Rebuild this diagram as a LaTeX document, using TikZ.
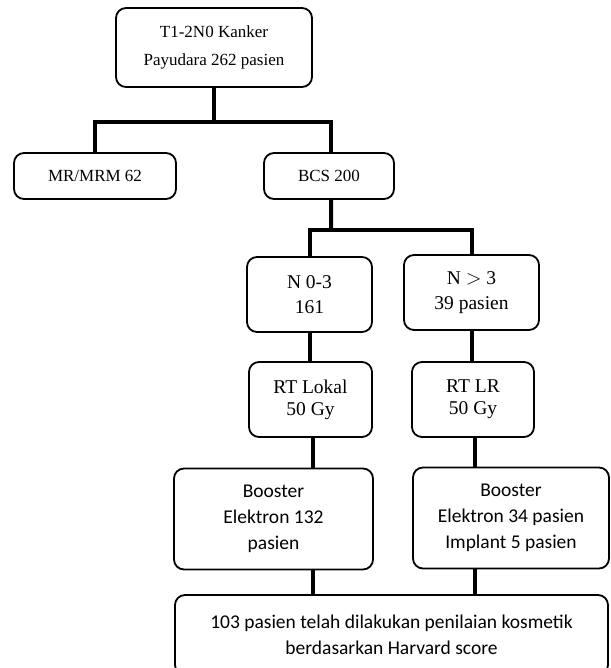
\documentclass[tikz,border=0pt]{standalone}
\usepackage{fontspec}
\setmainfont{Liberation Serif}
\newfontfamily\calib{Carlito}
\begin{document}
\begin{tikzpicture}[x=1bp,y=-1bp,
  box/.style={draw=black, line width=1.8bp, rounded corners=10bp, align=center, inner sep=0pt, fill=white},
  serifbox/.style={box, font=\fontsize{17bp}{25bp}\selectfont},
  nbox/.style={box, font=\fontsize{19.5bp}{25bp}\selectfont},
  rtbox/.style={box, font=\fontsize{19.5bp}{22bp}\selectfont},
  sansbox/.style={box, font=\calib\fontsize{19.5bp}{26bp}\selectfont},
  conn/.style={draw=black, line width=4bp}]
\useasboundingbox (0,0) rectangle (611,668);
\clip (0,0) rectangle (611,668);
\node[serifbox, minimum width=196bp, minimum height=79bp, font=\fontsize{17bp}{28bp}\selectfont] (top) at (214,47.5) {T1-2N0 Kanker\\Payudara 262 pasien};
\node[serifbox, minimum width=162bp, minimum height=46bp] (mr) at (95,176) {MR/MRM 62};
\node[serifbox, minimum width=130bp, minimum height=46bp] (bcs) at (329,176) {BCS 200};
\node[nbox, minimum width=125bp, minimum height=75bp] (n03) at (309.5,294.5) {N 0-3\\161};
\node[nbox, minimum width=135bp, minimum height=75bp] (ng3) at (471.5,292.5) {N $>$ 3\\39 pasien};
\node[rtbox, minimum width=123bp, minimum height=75bp] (rtl) at (310.5,399.5) {RT Lokal\\50 Gy};
\node[rtbox, minimum width=122bp, minimum height=75bp] (rtlr) at (473,399.5) {RT LR\\50 Gy};
\node[sansbox, minimum width=199bp, minimum height=101bp] (b1) at (273.5,519) {Booster\\Elektron 132\\pasien};
\node[sansbox, minimum width=196bp, minimum height=101bp] (b2) at (511,518) {Booster\\Elektron 34 pasien\\Implant 5 pasien};
\node[sansbox, minimum width=433bp, minimum height=80bp] (bot) at (391.5,635) {103 pasien telah dilakukan penilaian kosmetik\\berdasarkan Harvard score};
\coordinate (j1) at (214,122);
\coordinate (j2) at (331,230);
\coordinate (bcsS) at ([xshift=2bp]bcs.south);
\coordinate (bcsN) at ([xshift=2bp]bcs.north);
\coordinate (rtlS) at ([xshift=2bp]rtl.south);
\coordinate (rtlrS) at ([xshift=2bp]rtlr.south);
\draw[conn] (top.south) -- (j1);
\draw[conn] (mr.north) |- (j1) -| (bcsN);
\draw[conn] (bcsS) -- (j2);
\draw[conn] (n03.north) |- (j2) -| (ng3.north);
\draw[conn] (n03.south) -- (rtl.north -| n03.south);
\draw[conn] (ng3.south) -- (rtlr.north -| ng3.south);
\draw[conn] (rtlS) -- (b1.north -| rtlS);
\draw[conn] (rtlrS) -- (b2.north -| rtlrS);
\draw[conn] (b1.south -| rtlS) -- (bot.north -| rtlS);
\draw[conn] (b2.south -| rtlrS) -- (bot.north -| rtlrS);
\end{tikzpicture}
\end{document}
